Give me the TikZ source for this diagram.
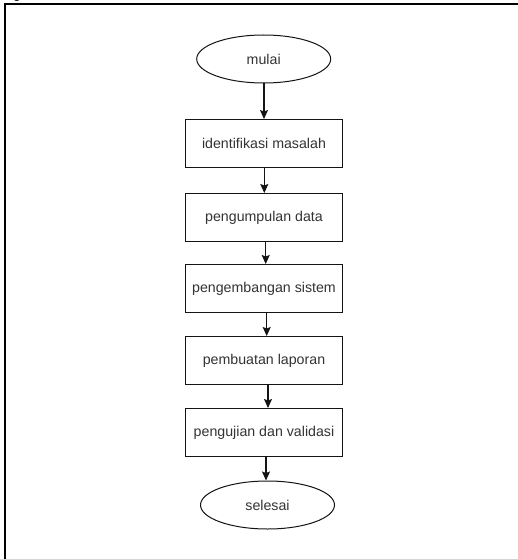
\documentclass[tikz,border=0pt]{standalone}
\usepackage{fontspec}
\setmainfont{Liberation Sans}
\usetikzlibrary{arrows.meta,shapes.geometric}
\definecolor{txt}{RGB}{51,51,51}
\definecolor{edge}{RGB}{20,20,20}
\tikzset{
  procbox/.style={draw=edge, line width=1pt, minimum width=157pt, minimum height=48pt, inner sep=0pt, font=\fontsize{14.2}{16}\selectfont, text=txt},
  termnode/.style={ellipse, draw=edge, line width=1pt, minimum width=134pt, minimum height=48pt, inner sep=0pt, font=\fontsize{14.2}{16}\selectfont, text=txt},
  arr/.style={draw=edge, line width=1.1pt, -{Stealth[length=9pt,width=8pt,inset=1.5pt]}},
  frameline/.style={draw=black, line width=1.9pt}
}
\begin{document}
\begin{tikzpicture}[x=1pt,y=-1pt]
\useasboundingbox (0,0) rectangle (518,559);
\fill[white] (0,0) rectangle (518,559);
\begin{scope}
  \clip (0,0) rectangle (518,3.3);
  \node[anchor=base, inner sep=0pt, font=\fontsize{14}{16}\selectfont] (gfrag) at (17,-1) {g};
\end{scope}
\coordinate (fbl) at (5,559);
\coordinate (ftl) at (5,4.2);
\coordinate (ftr) at (518,4.2);
\draw[frameline] (fbl) -- (ftl) -- (ftr);

\node[termnode] (start) at (263.7,59) {mulai};
\node[procbox] (b1) at (264,143.5) {identifikasi masalah};
\node[procbox] (b2) at (264,217.5) {pengumpulan data};
\node[procbox] (b3) at (264,288.5) {pengembangan sistem};
\node[procbox] (b4) at (264,360.5) {pembuatan laporan};
\node[procbox] (b5) at (264,432.5) {pengujian dan validasi};
\node[termnode] (stop) at (267.5,505) {selesai};

\draw[arr] ([xshift=0.3pt]start.south) -- ([xshift=0.3pt]start.south |- b1.north);
\draw[arr] ([xshift=0.3pt]b1.south) -- ([xshift=0.3pt]b1.south |- b2.north);
\draw[arr] ([xshift=1.7pt]b2.south) -- ([xshift=1.7pt]b2.south |- b3.north);
\draw[arr] ([xshift=2.7pt]b3.south) -- ([xshift=2.7pt]b3.south |- b4.north);
\draw[arr] ([xshift=4pt]b4.south) -- ([xshift=4pt]b4.south |- b5.north);
\draw[arr] ([xshift=2pt]b5.south) -- ([xshift=2pt]b5.south |- stop.north);
\end{tikzpicture}
\end{document}
